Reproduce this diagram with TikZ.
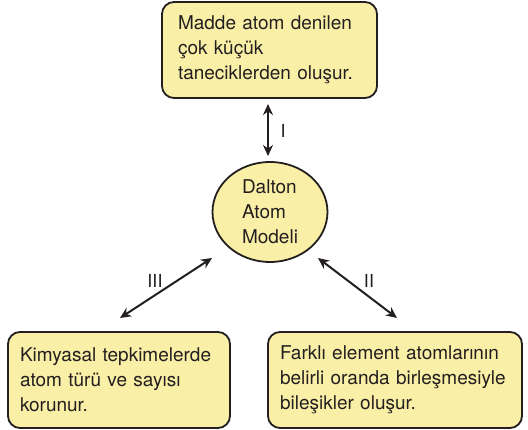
\documentclass[tikz,border=0pt]{standalone}
\usepackage{fontspec}
\setmainfont{TeX Gyre Heros}
\usetikzlibrary{arrows.meta,shapes.geometric}
\hyphenpenalty=10000
\exhyphenpenalty=10000
\definecolor{boxfill}{HTML}{FAEFA6}
\definecolor{edge}{HTML}{231F20}
\tikzset{
  x=1pt,y=-1pt,
  infobox/.style={draw=edge,fill=boxfill,line width=1.8pt,rounded corners=12pt,
    minimum height=96pt,align=left,inner xsep=0pt,
    font=\fontsize{19}{25}\selectfont,text=edge},
  core/.style={ellipse,draw=edge,fill=boxfill,line width=1.8pt,
    minimum width=115pt,minimum height=100pt,inner sep=0pt,align=left,
    font=\fontsize{19}{25}\selectfont,text=edge},
  link/.style={draw=edge,line width=2pt,{Stealth[length=11pt,width=10pt]}-{Stealth[length=11pt,width=10pt]}},
  lab/.style={font=\fontsize{18}{20}\selectfont,text=edge}
}
\begin{document}
\begin{tikzpicture}
\useasboundingbox (0,0) rectangle (528,430);
\node[infobox,minimum width=215pt,text width=183pt] (top) at (269.5,50) {Madde atom denilen\\çok küçük\\taneciklerden oluşur.};
\node[core] (dalton) at (270,212) {Dalton\\Atom\\Modeli};
\node[infobox,minimum width=222pt,text width=198pt] (left) at (119,380) {Kimyasal tepkimelerde\\atom türü ve sayısı\\korunur.};
\node[infobox,minimum width=254pt,text width=230pt] (right) at (395,380) {Farklı element atomlarının\\belirli oranda birleşmesiyle\\bileşikler oluşur.};
\coordinate (i1) at (268,104);
\coordinate (i2) at (268,156);
\coordinate (iii1) at (120,318);
\coordinate (iii2) at (212,258);
\coordinate (ii1) at (318,258);
\coordinate (ii2) at (397,318);
\draw[link] (i1) -- (i2);
\draw[link] (iii1) -- (iii2);
\draw[link] (ii1) -- (ii2);
\node[lab] (l1) at (283,131) {I};
\node[lab] (l3) at (155,281) {III};
\node[lab] (l2) at (369,281) {II};
\end{tikzpicture}
\end{document}
